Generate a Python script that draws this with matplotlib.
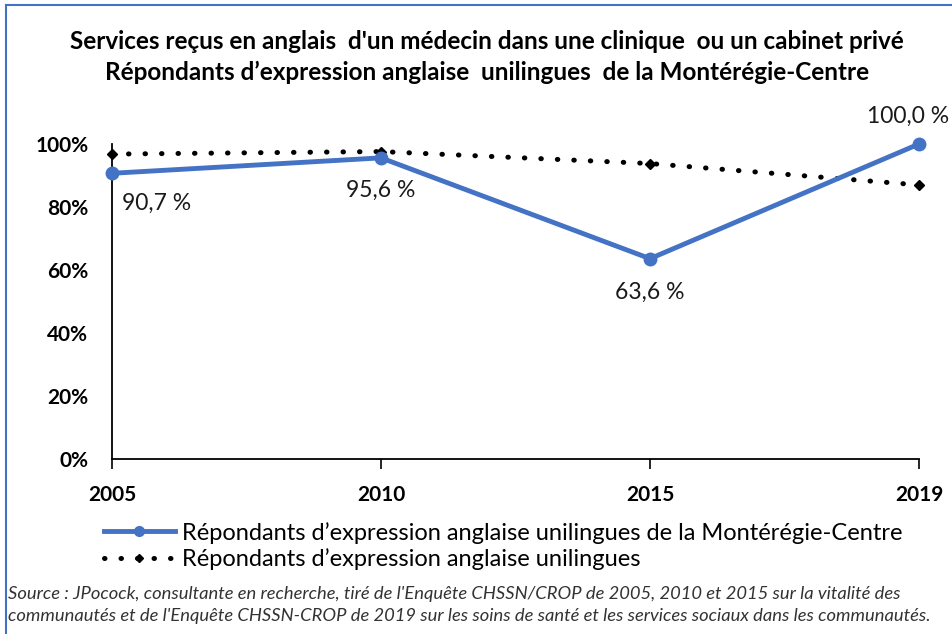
import matplotlib.pyplot as plt
import matplotlib.ticker as mtick
from matplotlib.lines import Line2D

# -- data --
years = ["2005", "2010", "2015", "2019"]
monteregie = [0.907, 0.956, 0.636, 1.000]
all_unilingual = [0.968, 0.976, 0.938, 0.870]
value_labels = ["90,7 %", "95,6 %", "63,6 %", "100,0 %"]

title = ("Services reçus en anglais  d'un médecin dans une clinique  ou un cabinet privé\n"
         "Répondants d’expression anglaise  unilingues  de la Montérégie-Centre")
legend_labels = ["Répondants d’expression anglaise unilingues de la Montérégie-Centre",
                 "Répondants d’expression anglaise unilingues"]
source = ("Source : JPocock, consultante en recherche, tiré de l'Enquête CHSSN/CROP de 2005, 2010 et 2015 sur la vitalité des\n"
          "communautés et de l'Enquête CHSSN-CROP de 2019 sur les soins de santé et les services sociaux dans les communautés.")

plt.rcParams["font.family"] = ["Lato", "DejaVu Sans"]

BLUE = "#4472C4"
W, H = 953, 634
fig = plt.figure(figsize=(W / 100, H / 100), dpi=100)
ax = fig.add_axes([112 / W, 1 - 459 / H, (919 - 112) / W, (459 - 144) / H])

x = range(len(years))

ax.plot(x, all_unilingual, color="black", linewidth=3.6, linestyle=(0, (0.1, 3.2)),
        dash_capstyle="round", marker="D", markersize=5, clip_on=False, zorder=3)
ax.plot(x, monteregie, color=BLUE, linewidth=3.5, marker="o", markersize=9,
        clip_on=False, zorder=4)

# -- data labels --
offsets = [(10, -30, "left"), (0, -32, "center"), (0, -34, "center"), (30, 28, "right")]
for i, (dx, dy, ha) in enumerate(offsets):
    ax.annotate(value_labels[i], (i, monteregie[i]), xytext=(dx, dy),
                textcoords="offset pixels", ha=ha, va="center",
                fontsize=16.5, color="#1a1a1a", annotation_clip=False)

ax.set_xlim(0, 3)
ax.set_ylim(0, 1)
ax.set_xticks(list(x))
ax.set_xticklabels(years, fontsize=15, fontweight="bold")
ax.set_yticks([0, 0.2, 0.4, 0.6, 0.8, 1.0])
ax.yaxis.set_major_formatter(mtick.PercentFormatter(1.0, decimals=0))
for lbl in ax.get_yticklabels():
    lbl.set_fontsize(15)
    lbl.set_fontweight("bold")
ax.tick_params(axis="y", length=0, pad=17)
ax.tick_params(axis="x", length=7, width=1.2, direction="out", pad=12)
for s in ["top", "right"]:
    ax.spines[s].set_visible(False)
for s in ["left", "bottom"]:
    ax.spines[s].set_linewidth(1.3)

fig.text(487 / W, 1 - 57 / H, title, ha="center", va="center",
         fontsize=17.5, fontweight="bold", linespacing=1.4)

# -- legend --
handles = [
    Line2D([], [], color=BLUE, linewidth=3.5, marker="o", markersize=7),
    Line2D([], [], color="black", linewidth=3.6, linestyle=(0, (0.1, 3.2)),
           dash_capstyle="round", marker="D", markersize=4),
]
fig.legend(handles, legend_labels, loc="upper left",
           bbox_to_anchor=(92 / W, 1 - 510 / H), frameon=False, fontsize=17,
           handlelength=3.0, handletextpad=0.3, labelspacing=0.2, borderpad=0)

fig.text(8 / W, 1 - 605 / H, source, ha="left", va="center", fontsize=13.2,
         style="italic", color="#333333", linespacing=1.5)

# blue frame (left and top edges visible)
fig.add_artist(Line2D([6 / W, 6 / W], [0, 1 - 5 / H], color=BLUE, linewidth=1.5,
                      transform=fig.transFigure))
fig.add_artist(Line2D([6 / W, 1], [1 - 5 / H, 1 - 5 / H], color=BLUE, linewidth=1.5,
                      transform=fig.transFigure))

fig.savefig("out.png", dpi=100)
